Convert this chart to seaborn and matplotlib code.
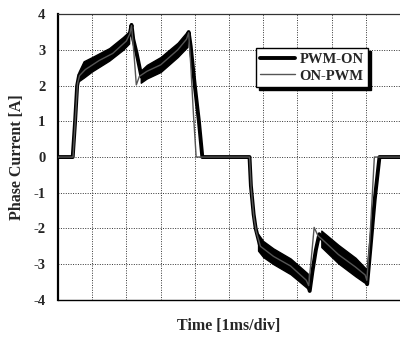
import matplotlib
matplotlib.use("Agg")
import matplotlib.pyplot as plt
import seaborn as sns
import pandas as pd

# Phase current traces (time in ms, current in A)
pwm_on_t = [0, 0.43, 0.50, 0.56, 0.62, 0.80, 1.20, 1.60, 2.00, 2.10, 2.15, 2.20, 2.30, 2.44,
            2.60, 3.00, 3.50, 3.76, 3.82, 3.88, 4.00, 4.12, 4.22,
            5.60, 5.64, 5.72, 5.78, 5.90, 6.30, 6.80, 7.28, 7.36, 7.44, 7.54, 7.64,
            7.72, 8.20, 8.70, 9.00, 9.04, 9.14, 9.26, 9.40, 10]
pwm_on_i = [0, 0, 1.0, 2.0, 2.30, 2.45, 2.70, 2.90, 3.25, 3.45, 3.70, 3.30, 2.90, 2.25,
            2.40, 2.58, 3.00, 3.30, 3.50, 3.10, 2.00, 1.00, 0,
            0, -0.80, -1.60, -2.00, -2.45, -2.78, -3.05, -3.47, -3.75, -3.20, -2.60, -2.16,
            -2.30, -2.73, -3.08, -3.32, -3.56, -2.50, -1.20, 0, 0]

on_pwm_t = [0, 0.44, 0.51, 0.57, 0.63, 0.80, 1.20, 1.60, 2.00, 2.10, 2.15, 2.22, 2.29, 2.38,
            2.60, 3.00, 3.50, 3.76, 3.82, 3.88, 3.96, 4.04,
            5.60, 5.65, 5.73, 5.80, 5.92, 6.30, 6.80, 7.26, 7.33, 7.41, 7.49, 7.60,
            7.72, 8.20, 8.70, 8.98, 9.03, 9.12, 9.25, 10]
on_pwm_i = [0, 0, 1.1, 2.05, 2.28, 2.45, 2.70, 2.90, 3.25, 3.45, 3.68, 2.90, 2.02, 2.26,
            2.40, 2.58, 3.00, 3.30, 3.48, 2.60, 1.20, 0,
            0, -0.90, -1.70, -2.10, -2.50, -2.78, -3.05, -3.45, -3.60, -2.80, -1.97, -2.20,
            -2.30, -2.73, -3.08, -3.30, -3.45, -2.30, 0, 0]

# PWM ripple envelopes of the PWM-ON trace
band1_t = [0.60, 0.75, 1.00, 1.50, 1.90, 2.08]
band1_hi = [2.38, 2.68, 2.80, 3.05, 3.36, 3.52]
band1_lo = [2.12, 2.22, 2.40, 2.70, 3.00, 3.18]

band2_t = [2.42, 2.60, 3.00, 3.50, 3.78]
band2_hi = [2.42, 2.58, 2.80, 3.20, 3.52]
band2_lo = [2.08, 2.20, 2.38, 2.80, 3.08]

band3_t = [5.85, 6.00, 6.30, 6.80, 7.30]
band3_hi = [-2.15, -2.35, -2.56, -2.84, -3.26]
band3_lo = [-2.62, -2.80, -3.00, -3.28, -3.68]

band4_t = [7.70, 8.20, 8.70, 9.00]
band4_hi = [-2.06, -2.46, -2.82, -3.12]
band4_lo = [-2.52, -2.98, -3.34, -3.54]

y_ticks = [4, 3, 2, 1, 0, -1, -2, -3, -4]

sns.set_theme(style="white")
plt.rcParams["font.family"] = ["Liberation Serif", "DejaVu Serif"]
plt.rcParams["font.weight"] = "bold"
plt.rcParams["axes.unicode_minus"] = False

fig = plt.figure(figsize=(4.0, 3.37), dpi=100)
ax = fig.add_axes([0.145, 0.110, 0.855, 0.848])

df_a = pd.DataFrame({"t": pwm_on_t, "i": pwm_on_i})
df_b = pd.DataFrame({"t": on_pwm_t, "i": on_pwm_i})

for bt, hi, lo in [(band1_t, band1_hi, band1_lo), (band2_t, band2_hi, band2_lo),
                   (band3_t, band3_hi, band3_lo), (band4_t, band4_hi, band4_lo)]:
    ax.fill_between(bt, lo, hi, color="black", lw=1.0, edgecolor="black", zorder=3)

sns.lineplot(data=df_b, x="t", y="i", ax=ax, sort=False, estimator=None,
             color="#555555", lw=1.0, label="ON-PWM", zorder=4)
sns.lineplot(data=df_a, x="t", y="i", ax=ax, sort=False, estimator=None,
             color="black", lw=2.8, label="PWM-ON", zorder=3)

ax.set_xlim(0, 10)
ax.set_ylim(-4, 4)
ax.set_xticks(range(0, 11))
ax.set_xticklabels([])
ax.set_yticks(y_ticks)
ax.set_yticklabels([str(v) for v in y_ticks], fontsize=10.5, fontweight="bold")
ax.tick_params(axis="both", length=0, pad=9)

ax.grid(True, color="#333333", linestyle=(0, (1, 1.5)), lw=0.7, zorder=0)

ax.spines["left"].set_color("black")
ax.spines["left"].set_linewidth(1.6)
ax.spines["bottom"].set_color("black")
ax.spines["bottom"].set_linewidth(1.0)
ax.spines["top"].set_color("#333333")
ax.spines["top"].set_linestyle((0, (1.5, 1)))
ax.spines["top"].set_linewidth(0.9)
ax.spines["right"].set_visible(False)

ax.set_xlabel("Time [1ms/div]", fontsize=11.5, fontweight="bold", labelpad=4)
ax.set_ylabel("Phase Current [A]", fontsize=11.5, fontweight="bold", labelpad=6)

handles, labels = ax.get_legend_handles_labels()
order = [labels.index("PWM-ON"), labels.index("ON-PWM")]
leg = ax.legend([handles[k] for k in order], [labels[k] for k in order],
                loc="upper right", bbox_to_anchor=(0.906, 0.881),
                prop={"family": "Liberation Serif", "weight": "bold", "size": 10.5},
                frameon=True, fancybox=False, shadow={"color": "black", "alpha": 1.0},
                edgecolor="black", framealpha=1, handlelength=2.4, handletextpad=0.3,
                borderpad=0.3, labelspacing=0.25, borderaxespad=0)
leg.get_frame().set_linewidth(1.0)

fig.savefig("out.png", dpi=100)
